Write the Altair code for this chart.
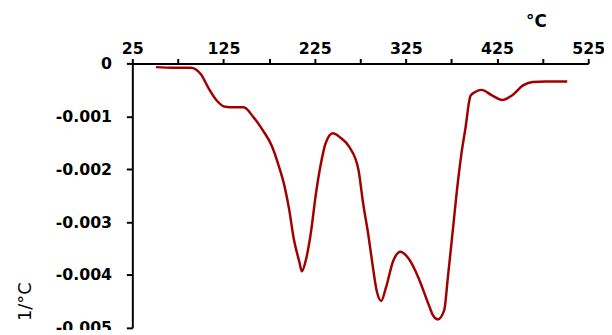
import altair as alt
import pandas as pd

temp = [51, 70, 89, 100, 109, 118, 127, 137, 147, 158, 168, 178, 186, 192, 197,
        202, 208, 211, 215, 221, 226, 232, 237, 245, 253, 263, 273, 278, 284, 289,
        293, 298, 303, 311, 319, 328, 339, 350, 355, 360, 367, 371, 377, 381, 386,
        391, 394, 396, 401, 408, 419, 431, 441, 454, 464, 478, 502]
dtg = [-0.00007, -0.00008, -0.00008, -0.00020, -0.00048, -0.00071, -0.00082, -0.00083,
       -0.00083, -0.00102, -0.00126, -0.00156, -0.00196, -0.00233, -0.00276, -0.00331,
       -0.00374, -0.00393, -0.00374, -0.00318, -0.00251, -0.00188, -0.00151, -0.00132,
       -0.00140, -0.00158, -0.00201, -0.00263, -0.00326, -0.00387, -0.00430, -0.00449,
       -0.00425, -0.00374, -0.00356, -0.00369, -0.00406, -0.00456, -0.00477, -0.00484,
       -0.00467, -0.00406, -0.00307, -0.00240, -0.00170, -0.00115, -0.00076, -0.00061,
       -0.00054, -0.00050, -0.00060, -0.00069, -0.00061, -0.00041, -0.00035, -0.00034,
       -0.00034]

x_ticks = [25, 75, 125, 175, 225, 275, 325, 375, 425, 475, 525]
y_ticks = [0, -0.001, -0.002, -0.003, -0.004, -0.005]

df = pd.DataFrame({"temp": temp, "dtg": dtg})

FONT = "DejaVu Sans"

chart = alt.Chart(df).mark_line(
    color="#A00000", strokeWidth=2.5, interpolate="monotone"
).encode(
    x=alt.X("temp:Q",
            scale=alt.Scale(domain=[25, 525], nice=False, zero=False),
            axis=alt.Axis(orient="top", values=x_ticks,
                          labelExpr="(datum.value - 25) % 100 == 0 ? datum.label : ''",
                          title="°C", titleX=409, titleY=-42, titleAlign="center",
                          titleBaseline="middle", titleFont=FONT, titleFontSize=17,
                          titleFontWeight="bold", titleColor="black",
                          labelFont=FONT, labelFontSize=16, labelFontWeight="bold",
                          labelColor="black", labelBaseline="alphabetic",
                          labelPadding=5, tickSize=5, labelOverlap=False,
                          labelBound=False, labelFlush=False)),
    y=alt.Y("dtg:Q",
            scale=alt.Scale(domain=[-0.005, 0], nice=False, zero=False),
            axis=alt.Axis(orient="left", values=y_ticks,
                          labelExpr="datum.value == 0 ? '0' : '-' + format(-datum.value, '.3f')",
                          title="1/°C", titleX=-108, titleY=241, titleAngle=-90,
                          titleAlign="center", titleBaseline="middle",
                          titleFont=FONT, titleFontSize=18, titleFontWeight="normal",
                          titleColor="black",
                          labelFont=FONT, labelFontSize=16, labelFontWeight="bold",
                          labelColor="black", labelPadding=15, tickSize=6,
                          labelOverlap=False, labelFlush=False)),
).properties(
    width=462, height=268,
    autosize=alt.AutoSizeParams(type="none"),
    padding={"left": 126, "top": 54, "right": 16, "bottom": 0},
).configure_axis(
    domainColor="black", domainWidth=2, tickColor="black", tickWidth=2, grid=False
).configure_view(strokeWidth=0)

chart.save("out.html", embed_options={"renderer": "svg", "actions": False})
